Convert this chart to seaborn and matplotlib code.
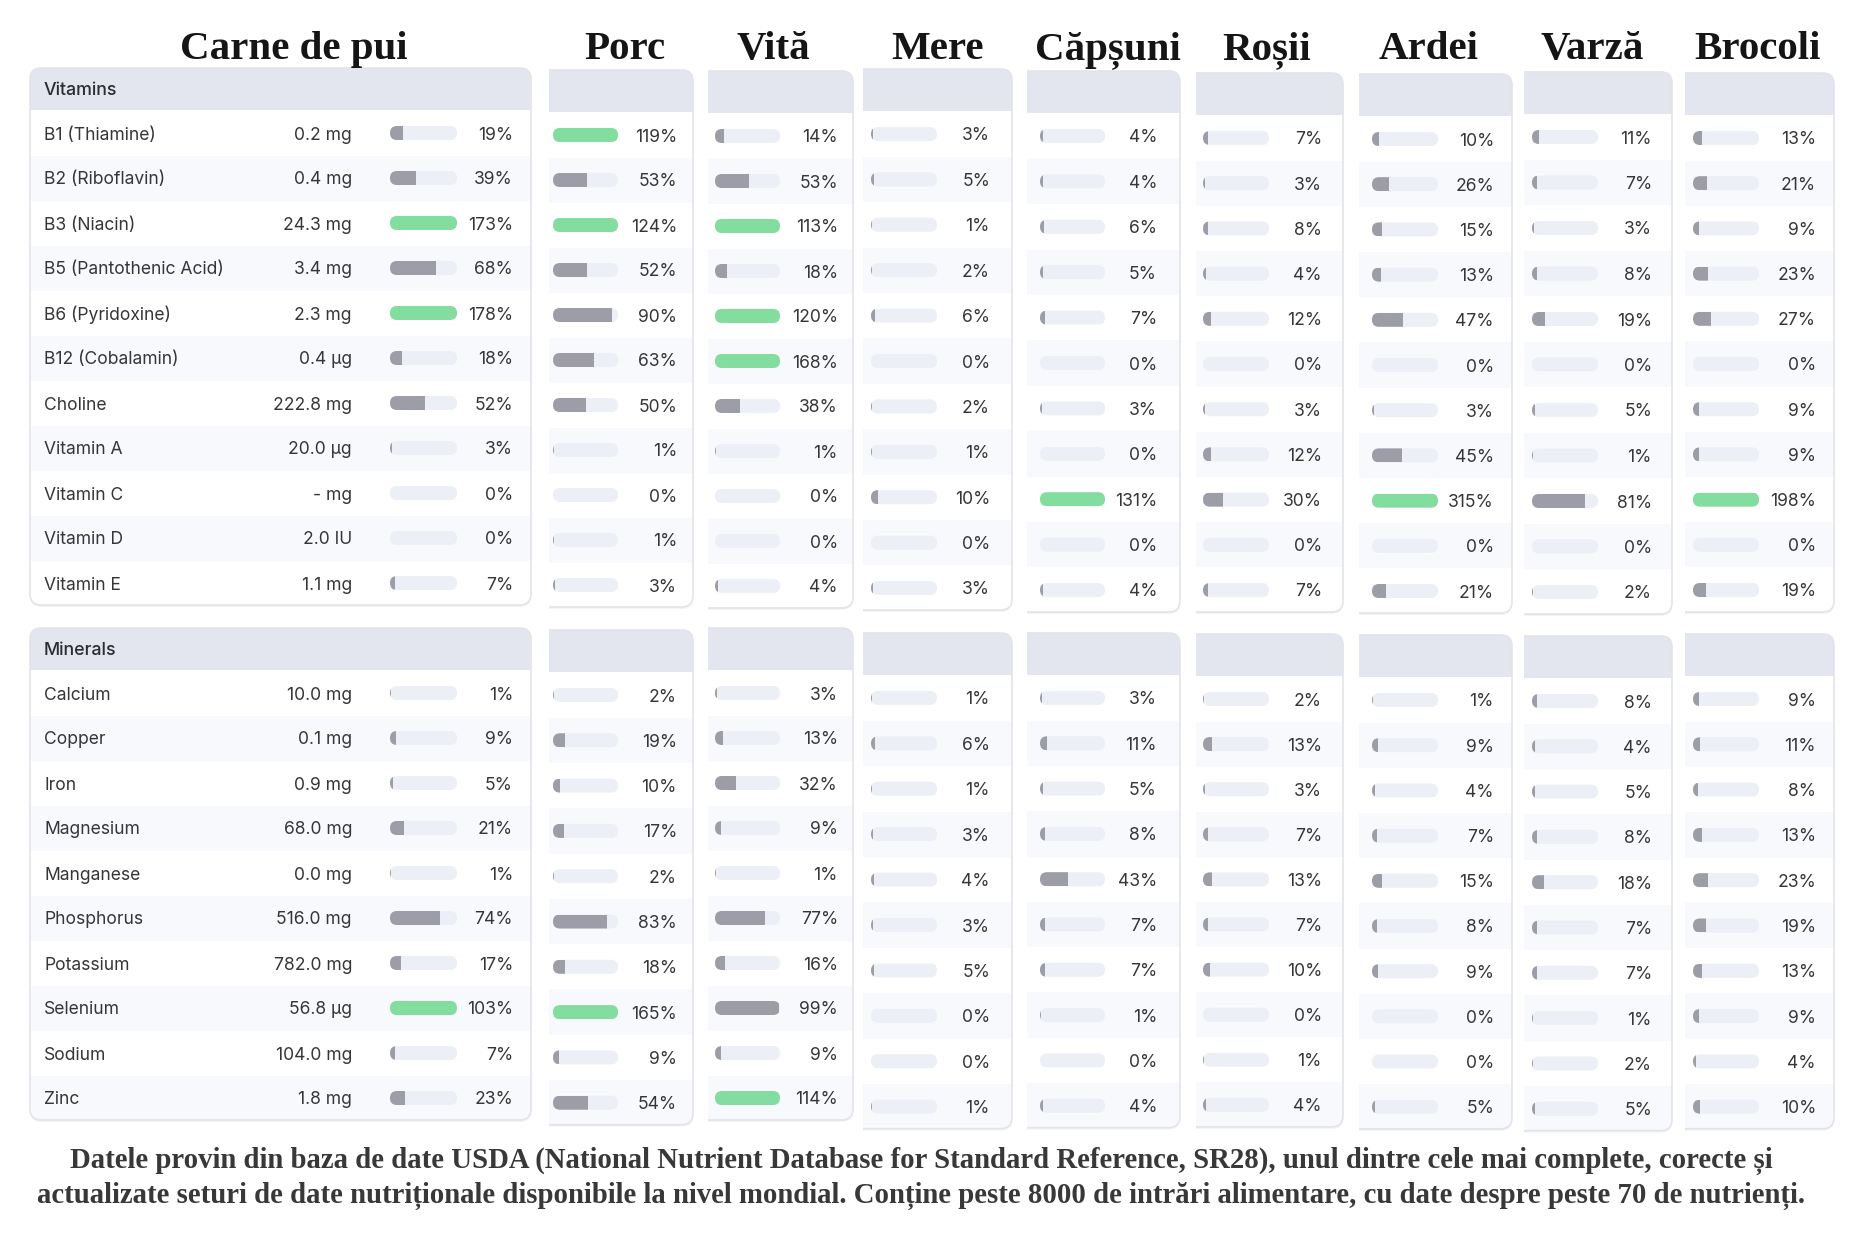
import pandas as pd
import matplotlib.pyplot as plt
import seaborn as sns
from matplotlib.patches import FancyBboxPatch, Rectangle

# ---- data: % of daily value per 100 g ----
foods = ['Carne de pui', 'Porc', 'Vită', 'Mere', 'Căpșuni', 'Roșii', 'Ardei', 'Varză', 'Brocoli']

vitamin_names = ['B1 (Thiamine)', 'B2 (Riboflavin)', 'B3 (Niacin)', 'B5 (Pantothenic Acid)',
                 'B6 (Pyridoxine)', 'B12 (Cobalamin)', 'Choline', 'Vitamin A', 'Vitamin C',
                 'Vitamin D', 'Vitamin E']
vitamin_amounts = ['0.2 mg', '0.4 mg', '24.3 mg', '3.4 mg', '2.3 mg', '0.4 µg', '222.8 mg',
                   '20.0 µg', '- mg', '2.0 IU', '1.1 mg']

mineral_names = ['Calcium', 'Copper', 'Iron', 'Magnesium', 'Manganese', 'Phosphorus',
                 'Potassium', 'Selenium', 'Sodium', 'Zinc']
mineral_amounts = ['10.0 mg', '0.1 mg', '0.9 mg', '68.0 mg', '0.0 mg', '516.0 mg', '782.0 mg',
                   '56.8 µg', '104.0 mg', '1.8 mg']

chicken_vit = [19, 39, 173, 68, 178, 18, 52, 3, 0, 0, 7]
pork_vit = [119, 53, 124, 52, 90, 63, 50, 1, 0, 1, 3]
beef_vit = [14, 53, 113, 18, 120, 168, 38, 1, 0, 0, 4]
apple_vit = [3, 5, 1, 2, 6, 0, 2, 1, 10, 0, 3]
strawberry_vit = [4, 4, 6, 5, 7, 0, 3, 0, 131, 0, 4]
tomato_vit = [7, 3, 8, 4, 12, 0, 3, 12, 30, 0, 7]
pepper_vit = [10, 26, 15, 13, 47, 0, 3, 45, 315, 0, 21]
cabbage_vit = [11, 7, 3, 8, 19, 0, 5, 1, 81, 0, 2]
broccoli_vit = [13, 21, 9, 23, 27, 0, 9, 9, 198, 0, 19]

chicken_min = [1, 9, 5, 21, 1, 74, 17, 103, 7, 23]
pork_min = [2, 19, 10, 17, 2, 83, 18, 165, 9, 54]
beef_min = [3, 13, 32, 9, 1, 77, 16, 99, 9, 114]
apple_min = [1, 6, 1, 3, 4, 3, 5, 0, 0, 1]
strawberry_min = [3, 11, 5, 8, 43, 7, 7, 1, 0, 4]
tomato_min = [2, 13, 3, 7, 13, 7, 10, 0, 1, 4]
pepper_min = [1, 9, 4, 7, 15, 8, 9, 0, 0, 5]
cabbage_min = [8, 4, 5, 8, 18, 7, 7, 1, 2, 5]
broccoli_min = [9, 11, 8, 13, 23, 19, 13, 9, 4, 10]

vit_cols = [chicken_vit, pork_vit, beef_vit, apple_vit, strawberry_vit,
            tomato_vit, pepper_vit, cabbage_vit, broccoli_vit]
min_cols = [chicken_min, pork_min, beef_min, apple_min, strawberry_min,
            tomato_min, pepper_min, cabbage_min, broccoli_min]

footnote = ["Datele provin din baza de date USDA (National Nutrient Database for Standard "
            "Reference, SR28), unul dintre cele mai complete, corecte și",
            "actualizate seturi de date nutriționale disponibile la nivel mondial. Conține peste "
            "8000 de intrări alimentare, cu date despre peste 70 de nutrienți."]

# ---- layout (pixels) - the panels are screenshots, so each sits a bit differently ----
W, H = 1866, 1240
panel_left = [30, 549, 708, 863, 1027, 1196, 1359, 1524, 1685]
panel_right = [531, 693, 853, 1012, 1180, 1343, 1512, 1672, 1834]
bar_left = [390, 553, 715, 871, 1040, 1203, 1372, 1532, 1693]
bar_right = [457, 618, 780, 937, 1105, 1269, 1438, 1598, 1759]
pct_right = [513, 677, 838, 990, 1157, 1322, 1494, 1652, 1816]
title_x = [294, 625, 773, 937, 1108, 1267, 1429, 1592, 1758]
vit_first = [133, 135, 136, 134, 136, 138, 139, 137, 138]
vit_pitch = [45.0, 45.0, 45.0, 45.4, 45.4, 45.2, 45.2, 45.5, 45.2]
min_first = [693, 695, 693, 698, 698, 699, 700, 701, 699]
min_pitch = [45.0, 45.3, 45.0, 45.4, 45.3, 45.1, 45.2, 45.3, 45.3]

HEAD = '#e3e6ee'
STRIPE = '#f8f9fc'
BORDER = '#e2e4e9'
TRACK = '#eceff6'
PAL = {'low': '#9c9da7', 'high': '#83dd9f'}
TXT = '#363636'
BAR_H = 14
FS = 12.6

sns.set_theme(style='white')
plt.rcParams['font.family'] = ['Inter', 'DejaVu Sans']

fig = plt.figure(figsize=(W / 100, H / 100), dpi=100)
bg = fig.add_axes([0, 0, 1, 1])
bg.set_xlim(0, W)
bg.set_ylim(H, 0)
bg.axis('off')


def draw_section(p, names, amounts, values, first, pitch, label):
    left, right = panel_left[p], panel_right[p]
    n = len(names)
    top = first - 65
    head_bottom = first - 23.5
    bottom = first + (n - 1) * pitch + 22
    r = 11
    cropped = p > 0
    x0 = left - 2 * r if cropped else left
    style = f'round,pad=0,rounding_size={r}'
    clip = Rectangle((left, top - 10), right - left + 10, bottom - top + 20,
                     transform=bg.transData)

    shadow = FancyBboxPatch((x0, top + 2), right - x0, bottom - top, boxstyle=style,
                            fc='#1f2937', ec='none', alpha=0.05, zorder=1)
    box = FancyBboxPatch((x0, top), right - x0, bottom - top, boxstyle=style,
                         fc='white', ec='none', zorder=1.1)
    border = FancyBboxPatch((x0, top), right - x0, bottom - top, boxstyle=style,
                            fc='none', ec=BORDER, lw=1.2, zorder=1.5)
    for patch in (shadow, box, border):
        bg.add_patch(patch)
        if cropped:
            patch.set_clip_path(clip)

    head = Rectangle((left, top), right - left, head_bottom - top, fc=HEAD, lw=0, zorder=1.2)
    bg.add_patch(head)
    head.set_clip_path(box)
    for i in range(1, n, 2):
        stripe = Rectangle((left, first + i * pitch - pitch / 2), right - left, pitch,
                           fc=STRIPE, lw=0, zorder=1.2)
        bg.add_patch(stripe)
        stripe.set_clip_path(box)

    if label:
        bg.text(44, (top + head_bottom) / 2 + 6, label, fontsize=12.8, fontweight='medium',
                color='#2b2d33', va='baseline', zorder=3)

    # rounded tracks behind the bars
    bl, br = bar_left[p], bar_right[p]
    tracks = []
    for i in range(n):
        y = first + i * pitch
        tr = FancyBboxPatch((bl, y - BAR_H / 2), br - bl, BAR_H,
                            boxstyle=f'round,pad=0,rounding_size={BAR_H / 2}',
                            fc=TRACK, ec='none', zorder=2)
        bg.add_patch(tr)
        tracks.append(tr)
        bg.text(pct_right[p], y + 6.5, f'{values[i]}%', ha='right', va='baseline',
                fontsize=FS, color=TXT, zorder=3)
        if p == 0:
            bg.text(44, y + 6.5, names[i], ha='left', va='baseline', fontsize=FS,
                    color=TXT, zorder=3)
            bg.text(352, y + 6.5, amounts[i], ha='right', va='baseline', fontsize=FS,
                    color=TXT, zorder=3)

    # the bars themselves
    df = pd.DataFrame({'nutrient': names, 'pct': values})
    df['shown'] = df['pct'].clip(upper=100)
    df['level'] = ['high' if v >= 100 else 'low' for v in df['pct']]
    y_top = first - pitch / 2
    y_bot = first + (n - 0.5) * pitch
    ax = fig.add_axes([bl / W, 1 - y_bot / H, (br - bl) / W, (y_bot - y_top) / H])
    ax.patch.set_alpha(0)
    sns.barplot(data=df, x='shown', y='nutrient', hue='level', order=names,
                hue_order=['low', 'high'], palette=PAL, orient='h', dodge=False,
                width=BAR_H / pitch, errorbar=None, legend=False, saturation=1,
                linewidth=0, ax=ax)
    ax.set_xlim(0, 100)
    ax.set_ylim(n - 0.5, -0.5)
    ax.axis('off')
    for bar in ax.patches:
        i = int(round(bar.get_y() + bar.get_height() / 2))
        bar.set_clip_path(tracks[i])


for p, food in enumerate(foods):
    bg.text(title_x[p], 59, food, ha='center', va='baseline', fontsize=29.5,
            fontweight='bold', family=['Liberation Serif', 'DejaVu Serif'],
            color='#151515', zorder=3)
    draw_section(p, vitamin_names, vitamin_amounts, vit_cols[p], vit_first[p], vit_pitch[p],
                 'Vitamins' if p == 0 else None)
    draw_section(p, mineral_names, mineral_amounts, min_cols[p], min_first[p], min_pitch[p],
                 'Minerals' if p == 0 else None)

# footnote, sized so that the second line spans the same width as in the source
notes = []
for line, yb in zip(footnote, [1168, 1203]):
    notes.append(bg.text(921, yb, line, ha='center', va='baseline', fontsize=20,
                         fontweight='bold', family=['Liberation Serif', 'DejaVu Serif'],
                         color='#383838', zorder=3))
renderer = fig.canvas.get_renderer()
w = notes[1].get_window_extent(renderer).width
for t in notes:
    t.set_fontsize(20 * 1768 / w)

fig.savefig('out.png', dpi=100, facecolor='white')
